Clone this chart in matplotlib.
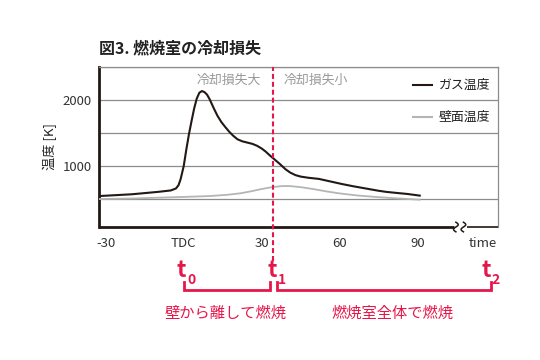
import matplotlib
matplotlib.use("Agg")
import matplotlib.pyplot as plt
import numpy as np

plt.rcParams["font.family"] = ["Noto Sans CJK JP", "DejaVu Sans"]

RED = "#e5174a"
INK = "#231815"
GRAY_LINE = "#b5b5b5"
GRID = "#8c8c8c"

# crank angle [deg] vs temperature [K]
gas_x = [-32.6, -20, -10, -5, -3, -2, -1.2, 0, 1, 2, 3, 4, 5, 6, 7, 8, 9, 10,
         11.5, 13, 14.5, 16, 17.5, 19, 20.7, 22.5, 24.5, 26.5, 28.3, 30, 31.5,
         33, 34.5, 37, 39.2, 41, 43, 45, 48, 52, 56, 60.8, 65, 70, 75, 78, 82,
         86, 90.8]
gas_t = [545, 572, 608, 630, 660, 710, 800, 1000, 1250, 1480, 1680, 1870, 2020,
         2110, 2136, 2120, 2080, 2010, 1880, 1760, 1665, 1590, 1520, 1460, 1405,
         1375, 1355, 1335, 1305, 1265, 1220, 1165, 1115, 1030, 950, 900, 862,
         840, 822, 805, 770, 728, 695, 660, 625, 608, 592, 577, 552]

wall_x = [-32.6, -20, -10, 0, 10, 17, 22, 26, 30, 34, 38, 41, 45, 50, 55, 60,
          67, 75, 82, 90.8]
wall_t = [500, 508, 520, 532, 545, 565, 588, 618, 652, 680, 697, 696, 680, 650,
          615, 585, 553, 528, 510, 490]

xticks = [-30, 0, 30, 60, 90, 115]
xticklabels = ["-30", "TDC", "30", "60", "90", "time"]
yticks = [500, 1000, 1500, 2000, 2500]
yticklabels = ["", "1000", "", "2000", ""]

t_marks = [("0", -0.8), ("1", 34.2), ("2", 116.2)]
split_x = 34.5

fig = plt.figure(figsize=(5.4, 3.6), dpi=100)
ax = fig.add_axes([0.1833, 0.3694, 0.7389, 0.4444])
ax.set_xlim(-32.6, 120.9)
ax.set_ylim(76, 2500)

ax.plot(wall_x, wall_t, color=GRAY_LINE, lw=1.3, zorder=3)
ax.plot(gas_x, gas_t, color=INK, lw=1.5, zorder=4)

ax.set_xticks(xticks)
ax.set_xticklabels(xticklabels)
ax.set_yticks(yticks)
ax.set_yticklabels(yticklabels)
ax.tick_params(axis="x", length=0, pad=7, labelsize=9.5, labelcolor="#333333")
ax.tick_params(axis="y", length=0, pad=5, labelsize=9.5, labelcolor="#333333")
ax.yaxis.grid(True, color=GRID, lw=0.9)
ax.set_axisbelow(True)

for side in ("top", "right"):
    ax.spines[side].set_color(GRID)
    ax.spines[side].set_linewidth(0.9)
ax.spines["left"].set_color(INK)
ax.spines["left"].set_linewidth(2.0)
ax.spines["bottom"].set_visible(False)

# bottom axis with a break before "time"
xt = ax.get_xaxis_transform()
ax.plot([-32.6, 103.8], [0, 0], color=INK, lw=2.0, transform=xt,
        clip_on=False, solid_capstyle="butt", zorder=5)
ax.plot([108.8, 120.9], [0, 0], color=INK, lw=1.2, transform=xt,
        clip_on=False, solid_capstyle="butt", zorder=5)
s = np.linspace(0, 1, 30)
for xc in (104.7, 107.6):
    ax.plot(xc + 0.9 * np.sin(2 * np.pi * s), 0.03 - 0.06 * s, color=INK,
            lw=1.1, transform=xt, clip_on=False, zorder=5)

ax.set_ylabel("温度 [K]", fontsize=9.5, color="#222222", labelpad=4)

# region notes and legend
ax.text(17.4, 0.919, "冷却損失大", transform=xt, ha="center", va="center",
        fontsize=9.3, color="#999999")
ax.text(38.6, 0.919, "冷却損失小", transform=xt, ha="left", va="center",
        fontsize=9.3, color="#999999")
ax.plot([0.787, 0.8346], [0.8875, 0.8875], color=INK, lw=1.5,
        transform=ax.transAxes)
ax.text(0.852, 0.8875, "ガス温度", transform=ax.transAxes, ha="left",
        va="center", fontsize=9.3, color="#222222")
ax.plot([0.787, 0.8346], [0.6875, 0.6875], color=GRAY_LINE, lw=1.5,
        transform=ax.transAxes)
ax.text(0.852, 0.6875, "壁面温度", transform=ax.transAxes, ha="left",
        va="center", fontsize=9.3, color="#222222")

# red split line and timing brackets
ax.plot([split_x, split_x], [-0.21, 1.0], color=RED, lw=1.5,
        dashes=(2.4, 1.4), transform=xt, clip_on=False, zorder=6)

for name, tx in t_marks:
    t = ax.annotate("t", xy=(tx, -0.312), xycoords=xt, ha="center",
                    va="baseline", fontsize=16, fontweight="bold", color=RED)
    ax.annotate(name, xy=(1.0, 0.0), xycoords=t, xytext=(0.5, -1.5),
                textcoords="offset points", ha="left", va="baseline",
                fontsize=10, fontweight="bold", color=RED)

y_top, y_bot = -0.342, -0.394
for x0, x1 in ((0.0, 33.2), (35.8, 118.3)):
    ax.plot([x0, x0, x1, x1], [y_top, y_bot, y_bot, y_top], color=RED, lw=2.0,
            transform=xt, clip_on=False, solid_joinstyle="miter")

fig.text(0.4185, 0.1306, "壁から離して燃焼", ha="center", va="center",
         fontsize=11, color=RED)
fig.text(0.7269, 0.1306, "燃焼室全体で燃焼", ha="center", va="center",
         fontsize=11, color=RED)

fig.text(0.1833, 0.866, "図3. 燃焼室の冷却損失", ha="left", va="center",
         fontsize=11.5, fontweight="bold", color="#222222")

fig.savefig("out.png", dpi=100)
